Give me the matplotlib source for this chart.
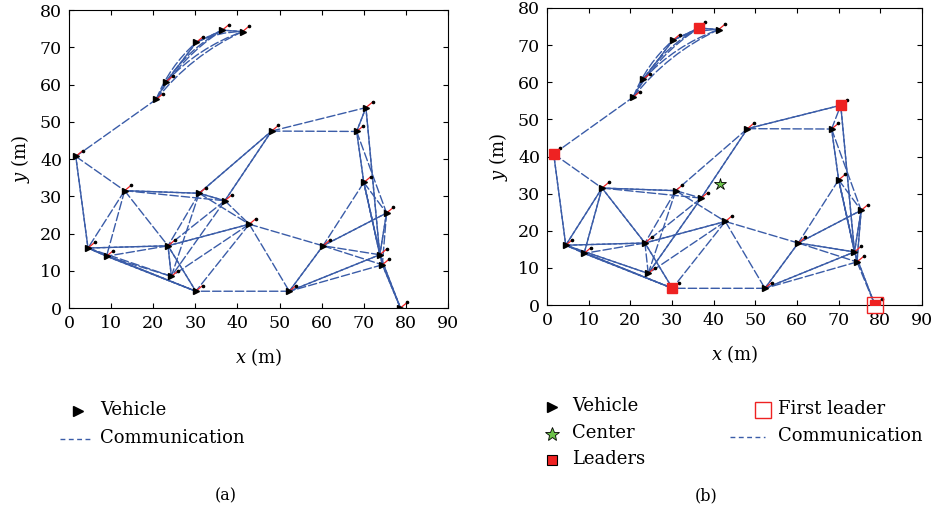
import numpy as np
import matplotlib
matplotlib.use("Agg")
import matplotlib.pyplot as plt
from matplotlib.patches import FancyArrowPatch
from matplotlib.lines import Line2D

plt.rcParams["font.family"] = ["DejaVu Serif"]
plt.rcParams["mathtext.fontset"] = "dejavuserif"

# vehicle positions (m); same layout in both panels
node_x = [1.6, 20.7, 23.1, 30.2, 36.4, 41.2, 48.1, 68.3, 70.5, 70.0, 75.4, 73.8, 74.4,
          78.7, 13.2, 30.9, 37.0, 42.8, 60.3, 52.3, 30.1, 24.3, 23.5, 8.9, 4.5]
node_y = [40.7, 56.0, 60.8, 71.3, 74.6, 74.2, 47.5, 47.4, 53.8, 33.7, 25.5, 14.3, 11.6,
          0.0, 31.5, 30.8, 28.8, 22.5, 16.7, 4.5, 4.5, 8.5, 16.7, 13.9, 16.1]

# communication links (one-way links look dashed, two-way links look solid)
links_a_one = [(0, 1), (0, 14), (1, 3), (1, 5), (2, 4), (2, 5), (3, 5),
               (6, 7), (6, 8), (7, 10), (9, 10), (9, 18), (10, 12), (11, 18),
               (12, 19), (14, 16), (14, 22), (14, 23), (14, 24), (15, 17),
               (15, 21), (15, 22), (16, 17), (16, 21), (16, 22), (17, 18),
               (17, 19), (17, 20), (17, 21), (18, 12), (19, 20), (21, 24),
               (22, 23), (23, 21), (1, 4)]
links_a_two = [(0, 24), (1, 2), (2, 3), (3, 4), (4, 5), (6, 15), (6, 16), (7, 8),
               (7, 9), (8, 11), (9, 11), (9, 12), (10, 11), (10, 18), (11, 13),
               (12, 13), (14, 15), (15, 16), (18, 19), (11, 19), (20, 22),
               (21, 22), (22, 17), (22, 24), (23, 24), (20, 23), (20, 24)]

links_b_one = [(0, 1), (0, 14), (1, 3), (1, 5), (2, 4), (2, 5), (3, 5), (1, 4),
               (6, 7), (6, 15), (7, 8), (7, 10), (9, 10), (9, 18), (12, 19),
               (14, 16), (15, 16), (15, 17), (15, 21), (15, 22), (16, 22),
               (17, 18), (17, 19), (17, 20), (17, 21), (18, 12), (19, 20),
               (21, 22), (22, 23), (23, 24), (12, 13)]
links_b_two = [(0, 24), (1, 2), (2, 3), (3, 4), (4, 5), (6, 8), (6, 16), (7, 9),
               (8, 11), (9, 11), (9, 12), (10, 11), (10, 12), (10, 18), (11, 13),
               (11, 18), (11, 19), (18, 19), (14, 15), (14, 22), (14, 23),
               (14, 24), (16, 21), (20, 22), (20, 23), (20, 24), (21, 24),
               (22, 17), (22, 24)]

leaders = [4, 8, 0, 20, 13]
first_leader = 13
center = (41.5, 32.5)

BLUE = "#3a5ca8"
RED = "#ee2222"
GREEN = "#6cc24a"
nx, ny = np.array(node_x), np.array(node_y)
cluster = {1, 2, 3, 4, 5}
W, H = 933, 516


def draw_link(ax, i, j, offset):
    rad = -0.12 if (i in cluster and j in cluster and abs(i - j) > 1) else 0.0
    p = FancyArrowPatch((nx[i], ny[i]), (nx[j], ny[j]), arrowstyle="-",
                        connectionstyle=f"arc3,rad={rad}", shrinkA=0, shrinkB=0,
                        color=BLUE, lw=1.0, linestyle=(offset, (6, 2.2)), zorder=2)
    ax.add_patch(p)


def draw_panel(ax, one, two):
    for i, j in one:
        draw_link(ax, i, j, 0)
    for i, j in two:
        draw_link(ax, i, j, 0)
        draw_link(ax, i, j, 4)
    # heading sticks
    hx, hy = 1.6, 1.5
    for x, y in zip(nx, ny):
        ax.plot([x, x + hx], [y, y + hy], color=RED, lw=0.9, zorder=3)
    ax.plot(nx + hx, ny + hy, "o", color="black", ms=1.6, zorder=4)
    ax.plot(nx, ny, ">", color="black", ms=4, zorder=4)
    ax.set_xlim(0, 90)
    ax.set_ylim(0, 80)
    ax.set_xticks(range(0, 91, 10))
    ax.set_yticks(range(0, 81, 10))
    ax.tick_params(direction="in", top=True, right=True, length=3.5, width=0.8,
                   labelsize=12.5, pad=5)
    for s in ax.spines.values():
        s.set_linewidth(0.8)
    ax.set_xlabel("$x$ (m)", fontsize=13, labelpad=10.5)
    ax.set_ylabel("$y$ (m)", fontsize=13, labelpad=6)


fig = plt.figure(figsize=(W / 100, H / 100), dpi=100)
ax1 = fig.add_axes([0.0740, 0.4031, 0.4062, 0.5775])
ax2 = fig.add_axes([0.5863, 0.4089, 0.4019, 0.5756])

draw_panel(ax1, links_a_one, links_a_two)
draw_panel(ax2, links_b_one, links_b_two)

ax2.plot(nx[leaders], ny[leaders], "s", color=RED, ms=7, zorder=5)
ax2.plot(nx[first_leader], ny[first_leader], "s", mfc="none", mec=RED, ms=11,
         mew=1.0, zorder=5, clip_on=False)
ax2.plot(*center, "*", mfc=GREEN, mec="black", mew=0.6, ms=9, zorder=5)


def fx(px):
    return px / W


def fy(py):
    return 1 - py / H


def leg_marker(x, y, **kw):
    fig.add_artist(Line2D([fx(x)], [fy(y)], ls="none", transform=fig.transFigure, **kw))


def leg_line(x0, x1, y):
    fig.add_artist(Line2D([fx(x0), fx(x1)], [fy(y), fy(y)], ls=(0, (3.5, 2.5)),
                          color=BLUE, lw=1.0, transform=fig.transFigure))


def leg_text(x, y, s):
    fig.text(fx(x), fy(y), s, ha="left", va="center", fontsize=13)


tri = dict(marker=">", color="black", ms=7)
# panel (a)
leg_marker(78, 411, **tri)
leg_text(100, 410, "Vehicle")
leg_line(60, 93, 439)
leg_text(100, 438, "Communication")
# panel (b)
leg_marker(552, 407, **tri)
leg_text(572, 406, "Vehicle")
leg_marker(552, 434, marker="*", mfc=GREEN, mec="black", mew=0.6, ms=10)
leg_text(572, 433, "Center")
leg_marker(552, 460, marker="s", mfc=RED, mec="black", mew=0.8, ms=7)
leg_text(572, 459, "Leaders")
leg_marker(763, 410, marker="s", mfc="none", mec=RED, mew=1.0, ms=12)
leg_text(778, 409, "First leader")
leg_line(730, 765, 437)
leg_text(778, 436, "Communication")

fig.text(fx(226), fy(496), "(a)", ha="center", va="center", fontsize=11.5)
fig.text(fx(706), fy(496), "(b)", ha="center", va="center", fontsize=11.5)

fig.savefig("out.png", dpi=100)
